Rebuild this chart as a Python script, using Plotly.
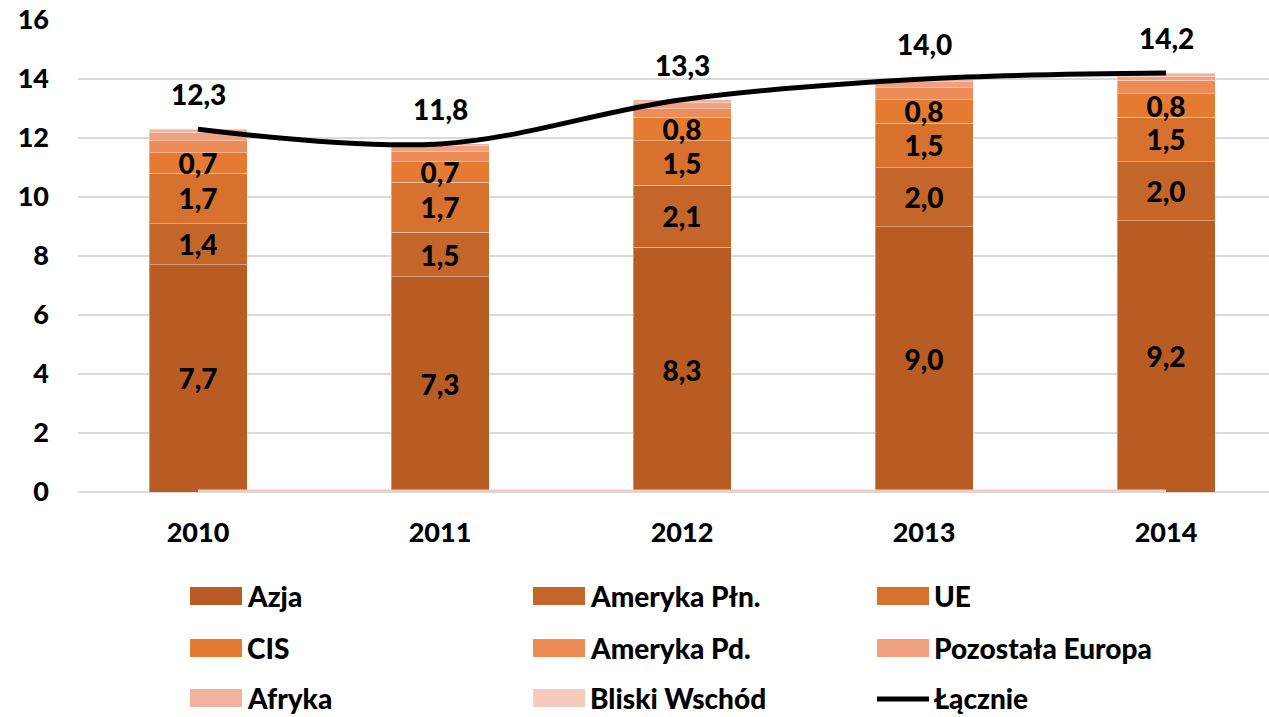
import plotly.graph_objects as go

years = ["2010", "2011", "2012", "2013", "2014"]
azja = [7.7, 7.3, 8.3, 9.0, 9.2]
ameryka_pln = [1.4, 1.5, 2.1, 2.0, 2.0]
ue = [1.7, 1.7, 1.5, 1.5, 1.5]
cis = [0.7, 0.7, 0.8, 0.8, 0.8]
ameryka_pd = [0.4, 0.35, 0.3, 0.4, 0.45]
pozostala_europa = [0.3, 0.2, 0.2, 0.2, 0.15]
afryka = [0.1, 0.05, 0.1, 0.1, 0.1]
bliski_wschod = [0.0, 0.0, 0.0, 0.0, 0.0]
lacznie = [12.3, 11.8, 13.3, 14.0, 14.2]

bar_series = [
    ("Azja", azja, "#B85C24", True),
    ("Ameryka Płn.", ameryka_pln, "#C4662A", True),
    ("UE", ue, "#D7712E", True),
    ("CIS", cis, "#E57A33", True),
    ("Ameryka Pd.", ameryka_pd, "#EE8C58", False),
    ("Pozostała Europa", pozostala_europa, "#F1A080", False),
    ("Afryka", afryka, "#F3B29E", False),
]
bliski_color = "#F6CBBE"

FONT = "Lato"
W = 900
FS_TICK = 27
FS_LABEL = 28
FS_LEG = 28

def fmt(v):
    return f"{v:.1f}".replace(".", ",")

x = list(range(len(years)))
fig = go.Figure()

for name, vals, color, labeled in bar_series:
    fig.add_trace(go.Bar(
        x=x, y=vals, name=name, width=0.405,
        marker=dict(color=color, line=dict(color="rgba(255,255,255,0.35)", width=1)),
        text=[fmt(v) for v in vals] if labeled else None,
        textposition="inside" if labeled else "none",
        insidetextanchor="middle",
        textangle=0,
        constraintext="none",
        textfont=dict(family=FONT, size=FS_LABEL, color="black", weight=W),
        showlegend=False,
    ))

fig.add_trace(go.Scatter(
    x=x, y=bliski_wschod, mode="lines", name="Bliski Wschód",
    line=dict(color=bliski_color, width=5), showlegend=False,
))

fig.add_trace(go.Scatter(
    x=x, y=lacznie, mode="lines", name="Łącznie",
    line=dict(color="black", width=5, shape="spline", smoothing=1.0),
    showlegend=False,
))

for xi, v in zip(x, lacznie):
    fig.add_annotation(x=xi, y=v, text=fmt(v), showarrow=False, yshift=35,
                       font=dict(family=FONT, size=FS_LABEL, color="black", weight=W))

# custom legend (pixel -> paper)
L, R, T, B = 78, 1269, 20, 492
def px_x(p):
    return (p - L) / (R - L)
def px_y(p):
    return (B - p) / (B - T)

legend_items = [(n, c, "bar") for n, _, c, _ in bar_series] + [("Bliski Wschód", bliski_color, "bar"), ("Łącznie", "black", "line")]
cols = [190, 533, 877]
rows = [596, 648, 698]
for i, (name, color, kind) in enumerate(legend_items):
    cx = cols[i % 3]
    cy = rows[i // 3]
    if kind == "bar":
        fig.add_shape(type="rect", xref="paper", yref="paper",
                      x0=px_x(cx), x1=px_x(cx + 52), y0=px_y(cy - 9), y1=px_y(cy + 9),
                      fillcolor=color, line=dict(width=0))
    else:
        fig.add_shape(type="line", xref="paper", yref="paper",
                      x0=px_x(cx), x1=px_x(cx + 52), y0=px_y(cy + 1), y1=px_y(cy + 1),
                      line=dict(color=color, width=5))
    fig.add_annotation(xref="paper", yref="paper", x=px_x(cx + 55), y=px_y(cy),
                       text=name, showarrow=False, xanchor="left", yanchor="middle",
                       font=dict(family=FONT, size=FS_LEG, color="black", weight=W))

fig.update_layout(
    barmode="stack",
    width=1269, height=717,
    margin=dict(l=L, r=0, t=T, b=717 - B),
    plot_bgcolor="white", paper_bgcolor="white",
    font=dict(family=FONT, size=FS_TICK, color="black", weight=W),
    showlegend=False,
    xaxis=dict(
        range=[(78 - 198) / 242, (1269 - 198) / 242],
        tickvals=x, ticktext=years,
        showgrid=False, zeroline=False, showline=False,
        ticks="", ticklabelstandoff=22,
        tickfont=dict(family=FONT, size=FS_TICK, color="black", weight=W),
    ),
    yaxis=dict(
        range=[0, 16], dtick=2,
        showgrid=True, gridcolor="#D9D9D9", gridwidth=2,
        zeroline=True, zerolinecolor="#D9D9D9", zerolinewidth=2,
        showline=False, ticks="", ticklabelstandoff=28,
        tickfont=dict(family=FONT, size=FS_TICK, color="black", weight=W),
    ),
)

fig.write_html("out.html", config={"displayModeBar": False},
               post_script="document.body.style.margin='0';document.body.style.overflow='hidden';")
